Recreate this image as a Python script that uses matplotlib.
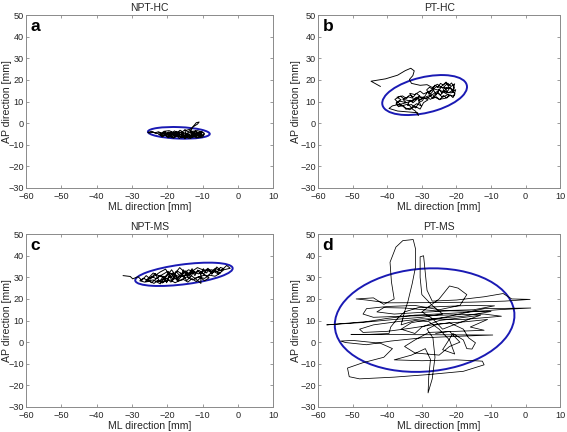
import matplotlib
matplotlib.use("Agg")
import matplotlib.pyplot as plt
from matplotlib.patches import Ellipse

plt.rcParams['font.family'] = ['Liberation Sans', 'DejaVu Sans']

titles = ["NPT-HC", "PT-HC", "NPT-MS", "PT-MS"]
letters = ["a", "b", "c", "d"]
x_ticks = [-60, -50, -40, -30, -20, -10, 0, 10]
y_ticks = [-30, -20, -10, 0, 10, 20, 30, 40, 50]

# traces (ML, AP) in mm
a_path = [(-25.5,-4.3),(-24.5,-3.8),(-23.5,-4.5),(-22.5,-4.0),(-21.5,-4.8),(-20.5,-4.2),(-21,-5.5),(-19.5,-5),
          (-20,-6.2),(-18.5,-5.5),(-19,-4.2),(-17.5,-4.8),(-18,-6.5),(-16.5,-5.8),(-17,-4),(-15.5,-4.5),(-16,-6.8),
          (-14.5,-6),(-15,-3.5),(-13.5,-2.8),(-12.5,-1.5),(-11.5,-0.5),(-11,0.5),(-11.8,0.2),(-12.8,-1.8),(-13.5,-4),
          (-12.5,-5.5),(-11.5,-4.5),(-10.5,-5.8),(-9.5,-5),(-10,-6.5),(-11.5,-6.8),(-12,-5),(-13,-6.2),(-14,-5.2),
          (-15,-6.5),(-16,-5),(-17,-6),(-18,-4.5),(-19.5,-3.5),(-21,-3.8),(-22,-5.2),(-20.5,-5.8),(-19,-6.5),
          (-17.5,-5.2),(-16,-4.2),(-14.5,-4.8),(-13,-3.8),(-11.5,-3.5),(-10,-4.2),(-11,-5.2),(-12.5,-6.5),(-14,-7),
          (-15.5,-5.5),(-17,-5),(-18.5,-6.8),(-20,-5),(-21.5,-6),(-22.5,-5.2),(-21,-4.5),(-19,-5.8),(-17.5,-3.8),
          (-16.5,-5.2),(-15,-5.8),(-13.5,-5),(-12,-4.2),(-10.8,-5.2),(-12.5,-6),(-14.5,-5.5),(-16.5,-6.2),
          (-18,-5.5),(-20,-4.5),(-19.2,-5.6),(-18.6,-4.6),(-17.8,-6.1),(-17.2,-5.0),(-16.4,-6.5),(-15.8,-5.3),
          (-15.1,-6.9),(-14.3,-5.6),(-13.6,-6.4),(-12.9,-5.1),(-12.2,-6.0),(-11.4,-5.4),(-10.6,-6.3),(-9.8,-5.6),
          (-9.6,-4.6),(-10.4,-3.9),(-11.2,-4.7),(-12.0,-3.6),(-12.8,-4.5),(-13.5,-3.3),(-14.2,-4.1),(-15.0,-3.0),
          (-15.7,-4.0),(-16.4,-3.3),(-17.2,-4.4),(-18.0,-3.6),(-18.8,-4.9),(-19.6,-4.1),(-20.4,-5.3),(-21.2,-4.4),
          (-22.0,-5.6),(-21.4,-6.4),(-20.6,-5.5),(-19.8,-6.8),(-19.0,-5.9),(-18.2,-7.0),(-17.4,-5.8),(-16.6,-7.1),
          (-15.8,-6.0),(-15.0,-7.2),(-14.2,-6.2),(-13.4,-7.0),(-12.6,-5.9),(-11.8,-6.9),(-11.0,-6.0),(-10.2,-5.0),
          (-11.0,-4.2),(-11.8,-5.4),(-12.6,-4.6),(-13.4,-5.8),(-14.2,-4.9),(-15.0,-5.2),(-15.8,-4.6),(-16.6,-5.6),
          (-17.4,-4.2),(-18.2,-5.4),(-19.0,-4.4),(-19.8,-5.2),(-20.6,-4.0),(-21.4,-5.0),(-22.2,-4.4),(-23.0,-4.9),
          (-24.0,-4.2),(-25.2,-4.6)]

b_path = [(-42,17),(-44.7,19.4),(-40.5,20.5),(-37,22.2),(-34.8,24.3),(-33.2,25.4),(-32.2,24.2),(-32.6,22),
          (-33.6,20.2),(-33,18.4),(-30.5,17.5),(-28.5,17.8),(-27,16.5),(-25.5,18),(-24,16.2),(-22.5,18.5),
          (-21.5,17),(-20.5,18.2),(-21,15.5),(-22.8,16.5),(-23.5,14.5),(-21.5,14),(-20.2,15.5),(-20.8,12.5),
          (-22.5,13.2),(-24,12),(-25.5,14),(-26.8,12.5),(-25,11),(-23.2,11.5),(-22,12.8),(-24.5,15),(-26.5,15.8),
          (-28,14.2),(-27.2,13),(-28.8,12.2),(-27.5,11),(-26,12.8),(-24.2,17.2),(-23,19),(-22,16),(-25.8,16.8),
          (-27.5,15),(-29.5,13.5),(-30.5,14.8),(-32,13.2),(-33.5,13.8),(-32.5,11.5),(-34,12.2),(-35.5,11),
          (-34.5,9.5),(-36.5,10.2),(-37.5,8.8),(-35.8,8),(-34,8.8),(-33,7.2),(-31.5,9),(-30.2,8),(-31,10.5),
          (-29.5,11.5),(-30.8,12.5),(-32.8,10),(-34.8,10.8),(-36.2,12.5),(-37.8,11),(-36.8,9.5),(-35,7.2),
          (-33.5,6.2),(-32,7.8),(-30.5,6.5),(-29.5,9.5),(-28.2,10.8),(-30,12),(-32,11),(-33.8,9.8),(-35.5,9),
          (-38.5,8),(-39.5,6.8),(-37,5.6),(-34,5.2),(-31.2,4.8),(-31,3.5),
          (-31.8,5.5),(-33.2,7.0),(-34.6,6.4),(-35.4,8.2),(-36.8,7.6),(-37.4,9.6),(-36.0,10.8),(-37.2,12.0),
          (-35.6,12.6),(-34.4,11.4),(-33.6,13.0),(-32.4,12.2),(-31.6,13.8),(-30.6,12.6),(-31.4,11.0),(-32.6,9.4),
          (-33.4,10.6),(-34.2,8.2),(-33.0,8.6),(-31.8,7.0),(-30.8,9.6),(-29.8,10.4),(-29.0,12.8),(-28.2,14.8),
          (-27.4,13.6),(-26.6,15.2),(-25.8,13.2),(-25.0,15.8),(-24.2,13.8),(-23.4,16.6),(-22.6,14.6),(-21.8,16.8),
          (-21.0,14.2),(-20.6,16.4),(-21.4,18.6),(-22.2,17.4),(-23.0,18.8),(-23.8,17.6),(-24.6,18.4),(-25.4,16.6),
          (-26.2,17.6),(-27.0,15.8),(-27.8,16.6),(-28.6,15.4),(-27.8,13.0),(-26.8,11.4),(-25.8,12.2),(-24.8,10.8),
          (-23.8,12.8),(-22.8,11.6),(-21.8,13.0),(-21.0,11.8),(-20.4,13.6),(-21.2,15.0),(-22.4,14.0),(-23.6,15.0),
          (-24.6,13.0),(-25.6,14.6),(-26.6,13.6),(-27.6,12.4),(-28.6,11.4),(-29.6,12.2),(-30.6,10.6),(-31.6,12.0),
          (-32.6,10.8)]

c_path = [(-32.5,30.8),(-30.5,30.4),(-29.8,29.3),(-28.3,30.3),(-27.2,28.6),(-26,30.8),(-24.8,29.2),(-23.5,31.8),
          (-22.2,28.2),(-21,30.5),(-20.2,27.5),(-19.5,31.2),(-18.2,29),(-17.5,32.8),(-16.2,30),(-15.5,33.5),
          (-14.2,31),(-13,34),(-12.2,31.8),(-11,33.2),(-9.8,31.5),(-8.5,34.2),(-7.2,32),(-6,34.8),(-4.8,33),
          (-3.2,35.5),(-2.2,34.2),(-4,33.5),(-5.5,31.5),(-7,32.8),(-8.8,30.5),(-10.5,32.5),(-10.5,27.2),
          (-11.8,29),(-13.2,30.8),(-14.5,28.5),(-15.8,31.5),(-17,28.2),(-18.5,30.8),(-19.8,32.8),(-21.5,31.2),
          (-22.8,29.8),(-24.5,27.5),(-25.5,29),(-23.8,30.5),(-22,32.5),(-20.5,33.8),(-19,30),(-17.8,31.8),
          (-16.5,34.5),(-15,32.2),(-13.8,29.5),(-12.5,32.5),(-14,33.5),(-16,31),(-17.2,29.8),(-18.8,33.5),
          (-20.2,30.5),(-21.8,28.5),(-23.2,28.2),(-21.2,27.8),(-19.2,28.8),(-17.8,27.5),(-16,29),(-14.5,30.2),
          (-12.8,28.8),(-11.2,30.2),(-9.5,29.5),(-8,31),(-6.5,30.5),(-5,32),(-7.5,33.5),(-9.2,33),(-11.5,34.5),
          (-13.5,32.2),(-15.2,30.5),(-17,30.5),(-18.5,32),(-20,29.2),(-22.5,30.8),(-24,32),(-26.2,28.2),
          (-24,28.8),(-22,27),
          (-21,29.2),(-20.2,28.0),(-19.4,30.4),(-18.6,28.6),(-17.8,31.0),(-17.0,29.2),(-16.2,32.0),(-15.4,30.0),
          (-14.6,32.4),(-13.8,30.6),(-13.0,33.0),(-12.2,30.8),(-11.4,33.4),(-10.6,31.4),(-9.8,34.0),(-9.0,32.0),
          (-8.2,33.2),(-7.4,31.4),(-6.6,33.6),(-5.8,32.4),(-5.0,34.6),(-4.0,34.0),(-5.2,33.0),(-6.4,34.2),
          (-7.6,32.6),(-8.8,33.8),(-10.0,32.6),(-11.2,31.6),(-12.4,32.8),(-13.6,31.4),(-14.8,33.0),(-16.0,31.6),
          (-17.2,33.0),(-18.4,31.2),(-19.6,32.2),(-20.8,30.0),(-22.0,31.0),(-23.2,29.4),(-24.4,30.4),(-25.6,28.6),
          (-26.8,29.6),(-27.8,28.4),(-26.4,27.8),(-25.0,28.2),(-23.8,27.2),(-22.6,28.6),(-21.4,27.4),(-20.2,29.6),
          (-19.0,27.8),(-17.8,29.8),(-16.6,28.4),(-15.4,29.0),(-14.2,27.8),(-13.0,29.4),(-11.8,28.0),(-10.6,29.8),
          (-9.4,28.4),(-8.2,29.8),(-9.4,31.0),(-10.8,30.4),(-12.2,29.6)]

d_path = [(-28,10),(-22,12),(-12,15.5),(1.5,15.8),(-8,15),(-20,13.5),(-32,12.5),(-40,11),(-46,9.5),(-57.5,8),
          (-48,9),(-38,10.5),(-30,11.5),(-24,13),(-27,17),(-30,22),(-30.5,30),(-30.5,39.5),(-29.5,40),(-29,32),
          (-28.5,24),(-27,19),(-20,19.5),(-12,21),(-6.5,22.5),(-4,20),(1.3,19.8),(-6,19),(-16,18.5),(-28,18.3),
          (-40,18.2),(-46,19.5),(-49,20),(-44,20.5),(-41,17.5),(-38,20),(-38.8,28),(-39.2,37),(-37.5,44),
          (-35.5,47),(-32.5,47.5),(-31.8,43),(-31.8,35),(-32.8,27),(-34,19),(-35,14),(-37,11),(-39,7),(-39.5,4),
          (-45,3.6),(-50.5,3.6),(-35,3.5),(-20,3.4),(-9.5,3.3),(-18,2.8),(-30,2),(-39,0.5),(-46,-1.2),(-52,-0.2),
          (-53.5,0.5),(-50,0.8),(-42,-0.5),(-38.5,-3),(-41,-7),(-47,-9.5),(-51.5,-12),(-51,-16),(-48,-17),
          (-38,-16.2),(-28,-15),(-18,-13.5),(-12,-10.5),(-12.5,-8.8),(-20,-8.2),(-30,-8.6),(-38,-8.2),(-33,-6),
          (-29,-3),(-27.5,-8),(-28,-16),(-28.2,-23.5),(-27,-17),(-26.2,-7),(-26.8,2),(-28.5,6),(-26,8),(-22,9),
          (-18,6),(-16.5,2),(-14.5,-0.3),(-15.5,-3.2),(-17,-3),(-18,1),(-21,4),(-24,-3.5),(-20.5,-5.5),(-22,1),
          (-25,6),(-28,9.5),(-32,10),(-36,8),(-35,14),(-31,16),(-24,16.5),(-16,17),(-9,16.8),(-15,15),(-26,14.5),
          (-35,15.8),(-41,16),(-43,14),(-38,13),(-30,13.8),(-22,14.5),(-10,14.2),(-18,12),(-26,11),(-33,9),
          (-36,6),(-32,4),(-30,7),(-25,10),(-20,11),(-13,12.5),(-20,8.5),(-24,6),(-27,11),(-30,14),(-25,20),
          (-22,26),(-19.5,25),(-17,22),(-19,17),(-25,15),(-32,17),
          (-40,16.5),(-46,15.5),(-47,13),(-44,11.5),(-36,12),(-24,12.5),(-12,13),(-7,12),(-18,10.5),(-30,10.8),
          (-37,9.5),(-44,8),(-48,6),(-47,4.5),(-40,5),(-33,6.5),(-25,8.5),(-17,9.5),(-11,10.5),(-16,7),(-12,5.5),
          (-20,5),(-28,4.5),(-32,1),(-35,-2),(-32,-5),(-25,-6),(-22,-2),(-19,0),(-22,5),(-26,4)]

paths = [a_path, b_path, c_path, d_path]

# confidence ellipses: center x, center y, semi-major, semi-minor, angle (deg)
ell_cx = [-16.75, -29.2, -15.3, -29.2]
ell_cy = [-4.5, 13.0, 31.4, 10.2]
ell_a = [8.77, 13.2, 14.1, 26.5]
ell_b = [2.65, 7.85, 4.55, 23.4]
ell_ang = [-3.6, 27.5, 12.6, 25.0]

fig = plt.figure(figsize=(5.67, 4.32), dpi=100)
positions = [[0.046, 0.565, 0.436, 0.400], [0.561, 0.565, 0.427, 0.400],
             [0.046, 0.058, 0.436, 0.400], [0.561, 0.058, 0.427, 0.400]]
ylab_x = [-0.058, -0.07, -0.058, -0.07]
trace_lw = [0.7, 0.65, 0.7, 0.55]

frame_col = '#8a8a8a'
for i in range(4):
    ax = fig.add_axes(positions[i])
    xs = [p[0] for p in paths[i]]
    ys = [p[1] for p in paths[i]]
    ax.plot(xs, ys, color='black', lw=trace_lw[i])
    e = Ellipse((ell_cx[i], ell_cy[i]), 2 * ell_a[i], 2 * ell_b[i], angle=ell_ang[i],
                fill=False, edgecolor='#1a1ab4', lw=1.4)
    ax.add_patch(e)
    ax.set_xlim(-60, 10)
    ax.set_ylim(-30, 50)
    ax.set_xticks(x_ticks)
    ax.set_yticks(y_ticks)
    ax.tick_params(direction='in', length=2.5, width=0.6, color=frame_col, labelsize=6.6,
                   labelcolor='#262626', top=True, right=True)
    ax.tick_params(axis='x', pad=3.0)
    ax.tick_params(axis='y', pad=1.5)
    for s in ax.spines.values():
        s.set_color(frame_col)
        s.set_linewidth(0.7)
    ax.set_title(titles[i], fontsize=7.5, color='#262626', pad=3)
    ax.set_xlabel("ML direction [mm]", fontsize=7.6, color='#262626')
    ax.set_ylabel("AP direction [mm]", fontsize=7.6, color='#262626')
    ax.xaxis.set_label_coords(0.5, -0.08)
    ax.yaxis.set_label_coords(ylab_x[i], 0.5)
    ax.text(0.018, 0.975, letters[i], transform=ax.transAxes, fontsize=12.5, fontweight='bold',
            va='top', ha='left', color='black')

fig.savefig("out.png", dpi=100)
